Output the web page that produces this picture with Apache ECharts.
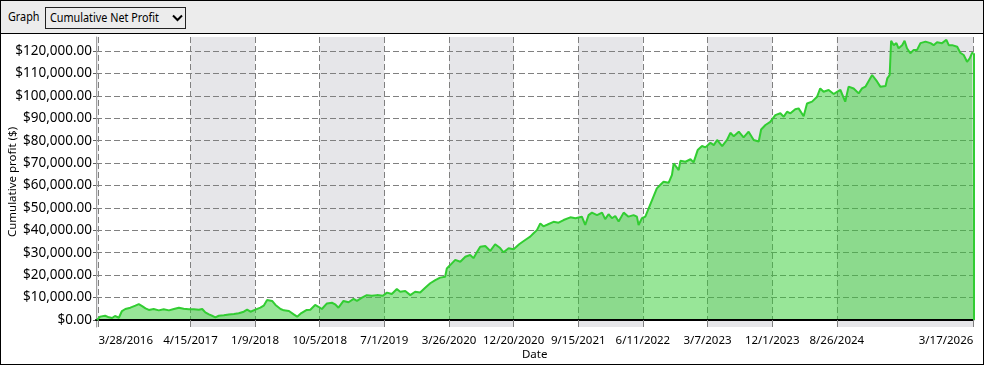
<!DOCTYPE html>
<html>
<head>
<meta charset="utf-8">
<script src="https://cdn.jsdelivr.net/npm/echarts@6/dist/echarts.min.js"></script>
<style>
html,body{margin:0;padding:0;width:984px;height:369px;overflow:hidden;background:#fff;font-family:"Noto Sans","Open Sans",sans-serif;}
#chart{position:absolute;left:0;top:0;width:984px;height:369px;}
#frame{position:absolute;left:0;top:0;width:982px;height:363px;border:1px solid #000;pointer-events:none;}
#header{position:absolute;left:0;top:0;width:984px;height:34px;background:#ececec;border-bottom:1px solid #000;box-sizing:border-box;}
#glabel{position:absolute;left:8px;top:9px;font-size:12px;color:#000;line-height:16px;transform:scaleX(0.9);transform-origin:0 0;}
#dd{position:absolute;left:45px;top:7px;width:141px;height:22px;box-sizing:border-box;border:1px solid #222;background:#ececec;}
#ddtext{position:absolute;left:4px;top:2px;font-size:12px;line-height:16px;color:#000;white-space:nowrap;transform:scaleX(0.9);transform-origin:0 0;}
#ddchev{position:absolute;left:126px;top:6px;}
</style>
</head>
<body>
<div id="chart"></div>
<div id="header">
  <div id="glabel">Graph</div>
  <div id="dd"><div id="ddtext">Cumulative Net Profit</div>
    <svg id="ddchev" width="11" height="8" viewBox="0 0 11 8"><polyline points="1,1.5 5.5,6 10,1.5" fill="none" stroke="#000" stroke-width="2"/></svg>
  </div>
</div>
<div id="frame"></div>
<script>
// ---- data ----
const dates = ['2016-03-22','2016-04-04','2016-04-25','2016-05-11','2016-05-24','2016-06-05','2016-06-21','2016-07-04','2016-07-18','2016-08-08','2016-08-29','2016-09-12','2016-09-26','2016-10-10','2016-10-24','2016-11-13','2016-12-04','2016-12-25','2017-01-15','2017-02-05','2017-02-26','2017-03-18','2017-04-08','2017-04-29','2017-05-20','2017-06-03','2017-06-16','2017-07-01','2017-07-14','2017-07-28','2017-08-11','2017-09-01','2017-09-22','2017-10-13','2017-11-02','2017-11-23','2017-12-07','2017-12-21','2018-01-10','2018-01-31','2018-02-14','2018-02-28','2018-03-07','2018-03-21','2018-04-04','2018-04-25','2018-05-09','2018-05-30','2018-06-19','2018-07-03','2018-07-17','2018-08-12','2018-08-27','2018-09-16','2018-09-30','2018-10-14','2018-11-04','2018-11-25','2018-12-08','2018-12-22','2019-01-12','2019-02-02','2019-02-23','2019-03-09','2019-03-30','2019-04-19','2019-05-10','2019-05-31','2019-06-25','2019-07-12','2019-08-01','2019-08-22','2019-09-05','2019-09-26','2019-10-17','2019-11-06','2019-11-27','2019-12-18','2020-01-08','2020-01-29','2020-02-18','2020-03-10','2020-03-17','2020-03-31','2020-04-21','2020-05-12','2020-06-02','2020-06-22','2020-07-06','2020-07-20','2020-08-03','2020-08-24','2020-09-14','2020-10-04','2020-10-25','2020-11-08','2020-11-29','2020-12-20','2021-01-12','2021-02-06','2021-02-27','2021-03-13','2021-03-27','2021-04-10','2021-04-23','2021-05-08','2021-06-04','2021-06-25','2021-07-16','2021-08-13','2021-09-03','2021-09-30','2021-10-14','2021-10-28','2021-11-11','2021-12-02','2021-12-23','2022-01-05','2022-01-19','2022-02-02','2022-02-16','2022-03-02','2022-03-23','2022-04-12','2022-05-03','2022-05-17','2022-05-24','2022-06-07','2022-06-21','2022-07-05','2022-07-25','2022-08-08','2022-08-22','2022-09-05','2022-09-26','2022-10-10','2022-10-17','2022-11-07','2022-11-14','2022-12-05','2022-12-26','2023-01-08','2023-01-25','2023-02-12','2023-02-26','2023-03-19','2023-04-02','2023-04-16','2023-05-07','2023-05-27','2023-06-10','2023-06-24','2023-07-15','2023-08-04','2023-08-25','2023-09-15','2023-10-06','2023-10-16','2023-11-03','2023-11-23','2023-12-14','2024-01-04','2024-01-18','2024-02-01','2024-02-15','2024-03-06','2024-03-20','2024-04-10','2024-04-24','2024-05-15','2024-06-05','2024-06-18','2024-07-02','2024-07-23','2024-08-13','2024-08-27','2024-09-10','2024-09-30','2024-10-14','2024-11-04','2024-11-25','2024-12-09','2024-12-23','2025-01-20','2025-02-10','2025-02-23','2025-03-17','2025-03-24','2025-04-03','2025-04-09','2025-04-20','2025-05-01','2025-05-10','2025-05-25','2025-06-04','2025-06-14','2025-06-28','2025-07-12','2025-07-26','2025-08-09','2025-08-30','2025-09-20','2025-10-03','2025-10-17','2025-11-07','2025-11-25','2025-12-05','2025-12-19','2026-01-09','2026-01-22','2026-02-05','2026-02-19','2026-03-02','2026-03-12','2026-03-17'];
const profit = [0,1500,1900,1200,900,1800,1000,4000,4900,5500,6400,7100,6200,5200,4500,4900,4300,4800,4300,4900,5500,5000,4800,4800,4600,4900,3400,2500,1900,1200,1900,2100,2500,2700,3000,3700,4600,3700,4600,5500,6400,8900,9700,8500,6700,4900,4300,4000,2500,1500,2800,4500,4600,6700,5900,4900,7400,7700,7000,5500,8500,7900,9400,8500,10000,11100,10800,11100,10800,12200,11600,13800,12600,12900,11100,12600,12300,14400,16400,17800,18900,19300,23000,24500,26800,26000,28200,29000,27600,30200,32700,33000,30800,33800,32100,30200,32000,31600,33800,35700,37200,38700,40100,43100,41800,42500,43800,43400,44600,45800,45400,46100,42400,46800,47900,46800,47900,45000,47200,45400,46400,43900,47900,46100,46800,46100,42400,45400,46100,49800,55000,58700,60200,61700,61200,64700,69900,66900,71000,70600,71700,70300,75800,77600,77000,79100,78000,80300,77600,80300,83500,82000,84000,81500,84000,80300,79600,85000,87000,88400,91400,92200,90700,92900,92200,94000,94400,90900,96600,97400,99600,103300,101800,102600,100800,101800,102600,97400,104100,103300,101100,103300,104100,109300,106300,104100,104400,107800,109300,124600,122600,123500,121200,122600,124600,121200,119000,120500,120500,123500,124200,123500,122600,123900,123500,125000,122600,122600,121900,119200,118200,115200,116700,119200,119000];
const xTickDates = ['2016-03-28','2017-04-15','2018-01-09','2018-10-05','2019-07-01','2020-03-26','2020-12-20','2021-09-15','2022-06-11','2023-03-07','2023-12-01','2024-08-26','2026-03-17'];
const yTicks = [0,10000,20000,30000,40000,50000,60000,70000,80000,90000,100000,110000,120000];
const xStart = '2016-03-18', xEnd = '2026-03-17';
const yMin = -3123, yMax = 126244;

// ---- build ----
const t = s => Date.parse(s + 'T00:00:00Z');
const xTickVals = xTickDates.map(t);
const fmtDate = v => { const d = new Date(v); return (d.getUTCMonth()+1) + '/' + d.getUTCDate() + '/' + d.getUTCFullYear(); };
const fmtMoney = v => '$' + Number(v).toLocaleString('en-US', {minimumFractionDigits:2, maximumFractionDigits:2});
const FONT = '"Noto Sans","Open Sans",sans-serif';
const GREEN = '#32cd32';

const bands = [[{xAxis: t(xStart)}, {xAxis: xTickVals[0]}]];
for (let i = 1; i + 1 < xTickVals.length; i += 2) bands.push([{xAxis: xTickVals[i]}, {xAxis: xTickVals[i+1]}]);

const seriesData = dates.map((d, i) => [t(d), profit[i]]);
const last = seriesData[seriesData.length - 1];

const chart = echarts.init(document.getElementById('chart'), null, {renderer: 'canvas'});
chart.setOption({
  animation: false,
  backgroundColor: 'transparent',
  grid: {left: 96, right: 10.7, top: 37, bottom: 42, containLabel: false, outerBoundsMode: 'none'},
  xAxis: {
    type: 'value', min: t(xStart), max: t(xEnd), z: 3,
    axisLine: {show: true, onZero: true, lineStyle: {color: '#000', width: 2}},
    axisTick: {show: true, customValues: xTickVals, length: 7, lineStyle: {color: '#808080'}},
    axisLabel: {customValues: xTickVals, formatter: fmtDate, margin: 8, color: '#000', fontSize: 11.5, fontFamily: FONT, alignMinLabel: 'left', alignMaxLabel: 'right'},
    splitLine: {show: true, lineStyle: {color: '#808080', type: [6, 3], width: 1}},
    name: 'Date', nameLocation: 'middle', nameGap: 22, nameMoveOverlap: false,
    nameTextStyle: {color: '#000', fontSize: 11.5, fontFamily: FONT}
  },
  yAxis: {
    type: 'value', min: yMin, max: yMax, z: 1.5,
    axisLine: {show: true, lineStyle: {color: '#a0a0a0', width: 1}},
    axisTick: {show: true, customValues: yTicks, length: 3, lineStyle: {color: '#606060'}},
    axisLabel: {customValues: yTicks, formatter: fmtMoney, margin: 4, color: '#000', fontSize: 13.5, fontFamily: FONT},
    splitLine: {show: true, lineStyle: {color: '#808080', type: [6, 3], width: 1}},
    name: 'Cumulative profit ($)', nameLocation: 'middle', nameGap: 77, nameMoveOverlap: false,
    nameTextStyle: {color: '#000', fontSize: 11.5, fontFamily: FONT}
  },
  series: [{
    type: 'line', data: seriesData, symbol: 'none', showSymbol: false,
    lineStyle: {color: GREEN, width: 2},
    areaStyle: {color: GREEN, opacity: 0.5},
    markArea: {silent: true, itemStyle: {color: '#e6e6e9'}, label: {show: false}, data: bands},
    markLine: {silent: true, symbol: 'none', label: {show: false},
      lineStyle: {color: GREEN, width: 2, type: 'solid'},
      data: [[{coord: [last[0], last[1]]}, {coord: [last[0], 0]}]]}
  }]
});
</script>
</body>
</html>
